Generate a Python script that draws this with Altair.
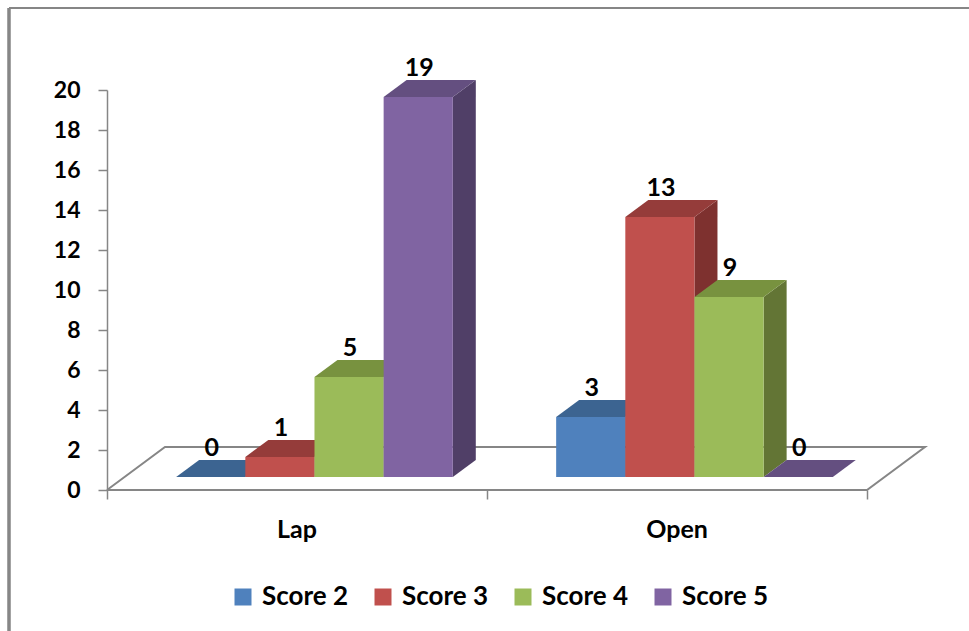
import altair as alt
import pandas as pd

# ---- data -------------------------------------------------------------
categories = ["Lap", "Open"]
series = ["Score 2", "Score 3", "Score 4", "Score 5"]
lap_values = [0, 1, 5, 19]
open_values = [3, 13, 9, 0]
values_by_category = [lap_values, open_values]

front_colors = ["#4F81BD", "#C0504D", "#9BBB59", "#8064A2"]
top_colors = ["#3C6491", "#953C3A", "#78923F", "#644F80"]
side_colors = ["#2F4E72", "#7E312F", "#637535", "#503F67"]

# ---- pseudo-3D geometry (category units on x, value units on y) -------
BAR_W = 0.182      # width of one bar front
GAP = 0.182        # gap before the first bar in each category
LIFT = 0.65        # bar front plane sits above the floor's front edge
DX, DY = 0.0605, 0.85          # bar depth offset
FDX, FDY = 0.1526, 2.15        # floor depth offset
X_MAX = 821 / 380

front_rows, top_rows, side_rows = [], [], []
for ci, cat in enumerate(categories):
    for si, (name, v) in enumerate(zip(series, values_by_category[ci])):
        bar_id = f"{cat}-{name}"
        x0 = ci + GAP + si * BAR_W
        x1 = x0 + BAR_W
        front_rows.append(dict(series=name, x0=x0, x1=x1, y0=LIFT, y1=v + LIFT,
                               xc=(x0 + x1) / 2, ylab=v + LIFT + DY, label=str(v)))
        top_rows += [
            dict(bar=bar_id, color=top_colors[si], y=v + LIFT, xa=x0, xb=x1),
            dict(bar=bar_id, color=top_colors[si], y=v + LIFT + DY, xa=x0 + DX, xb=x1 + DX),
        ]
        if v > 0:
            side_rows += [
                dict(bar=bar_id, color=side_colors[si], x=x1, ylo=LIFT, yhi=v + LIFT),
                dict(bar=bar_id, color=side_colors[si], x=x1 + DX, ylo=LIFT + DY, yhi=v + LIFT + DY),
            ]

front_df = pd.DataFrame(front_rows)
top_df = pd.DataFrame(top_rows)
side_df = pd.DataFrame(side_rows)

floor_df = pd.DataFrame({
    "x": [0, 2, 2 + FDX, FDX, 0],
    "y": [0, 0, FDY, FDY, 0],
    "k": [0, 1, 2, 3, 4],
})
cat_df = pd.DataFrame({"x": [i + 0.5 for i in range(len(categories))],
                       "y": [-2.0] * len(categories), "cat": categories})

FONT = "Lato"
GRAY = "#868686"

xs = alt.Scale(domain=[0, X_MAX], nice=False, zero=False)
ys = alt.Scale(domain=[0, 20], nice=False)

x_axis = alt.Axis(values=[0, 1, 2], labels=False, domain=False, grid=False,
                  tickSize=9, tickColor=GRAY, tickWidth=1.5, title=None)
y_axis = alt.Axis(values=list(range(0, 21, 2)), grid=False, domainColor=GRAY,
                  domainWidth=1.5, tickColor=GRAY, tickWidth=1.5, tickSize=9,
                  labelFont=FONT, labelFontWeight="bold", labelFontSize=23,
                  labelColor="black", labelPadding=18, labelOverlap=False,
                  labelBound=False, labelFlush=False, title=None)

floor = alt.Chart(floor_df).mark_line(color=GRAY, strokeWidth=2).encode(
    x=alt.X("x:Q", scale=xs, axis=x_axis),
    y=alt.Y("y:Q", scale=ys, axis=y_axis),
    order="k:Q",
)

sides = alt.Chart(side_df).mark_area(orient="vertical", opacity=1).encode(
    x=alt.X("x:Q", scale=xs, axis=x_axis),
    y=alt.Y("ylo:Q", scale=ys, axis=y_axis),
    y2="yhi:Q",
    detail="bar:N",
    color=alt.Color("color:N", scale=None),
)

tops = alt.Chart(top_df).mark_area(orient="horizontal", opacity=1).encode(
    y=alt.Y("y:Q", scale=ys, axis=y_axis),
    x=alt.X("xa:Q", scale=xs, axis=x_axis),
    x2="xb:Q",
    detail="bar:N",
    color=alt.Color("color:N", scale=None),
)

fronts = alt.Chart(front_df).mark_rect().encode(
    x=alt.X("x0:Q", scale=xs, axis=x_axis),
    x2="x1:Q",
    y=alt.Y("y0:Q", scale=ys, axis=y_axis),
    y2="y1:Q",
    color=alt.Color(
        "series:N",
        scale=alt.Scale(domain=series, range=front_colors),
        legend=alt.Legend(
            title=None, orient="none", direction="horizontal",
            legendX=123, legendY=494, padding=0,
            symbolType="square", symbolSize=289, symbolStrokeWidth=0,
            labelFont=FONT, labelFontWeight="bold", labelFontSize=26,
            labelColor="black", labelOffset=6, columnPadding=21,
            labelLimit=300,
        ),
    ),
)

value_labels = alt.Chart(front_df).mark_text(
    font=FONT, fontWeight="bold", fontSize=25, baseline="bottom", dy=1, dx=1,
    color="black",
).encode(
    x=alt.X("xc:Q", scale=xs, axis=x_axis),
    y=alt.Y("ylab:Q", scale=ys, axis=y_axis),
    text="label:N",
)

cat_labels = alt.Chart(cat_df).mark_text(
    font=FONT, fontWeight="bold", fontSize=25, baseline="middle", color="black",
).encode(
    x=alt.X("x:Q", scale=xs, axis=x_axis),
    y=alt.Y("y:Q", scale=ys, axis=y_axis),
    text="cat:N",
)

# frame along the top and left edges of the canvas
frame_top = alt.Chart(floor_df).mark_rule(color=GRAY, strokeWidth=2).encode(
    x=alt.value(-98), x2=alt.value(862), y=alt.value(-82))
frame_left = alt.Chart(floor_df).mark_rule(color=GRAY, strokeWidth=2.5).encode(
    x=alt.value(-98), y=alt.value(-82), y2=alt.value(541))

chart = alt.layer(
    frame_top, frame_left, floor, sides, tops, fronts, value_labels, cat_labels
).properties(
    width=821, height=400,
    padding={"left": 107, "top": 90, "right": 41, "bottom": 141},
    autosize=alt.AutoSizeParams(type="none"),
    background="white",
).configure_view(stroke=None).configure_axis(labelOverlap=False)

chart.save("out.html", embed_options={"renderer": "svg", "actions": False})
